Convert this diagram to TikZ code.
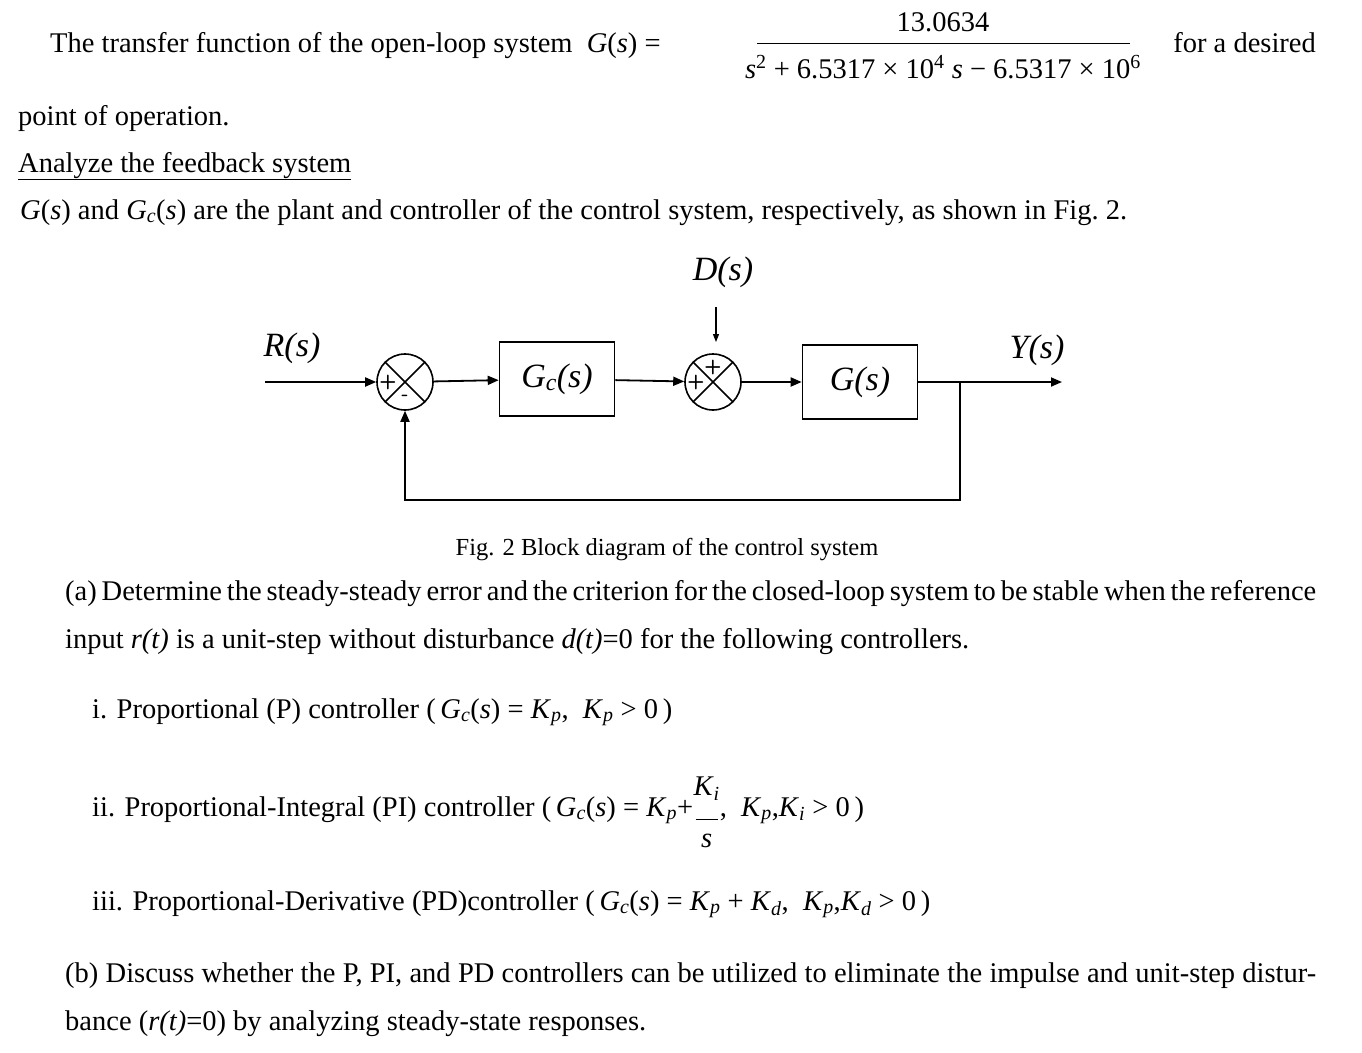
\documentclass[tikz,border=0pt]{standalone}
\usepackage{fontspec}
\setmainfont{Liberation Serif}
\usetikzlibrary{arrows.meta}
\newcommand{\mi}[1]{\textit{#1}}
\newcommand{\sbs}[1]{\textsubscript{\textit{#1}}}
\newcommand{\sps}[1]{\textsuperscript{#1}}
\tikzset{
 txt/.style={anchor=base west,inner sep=0pt,font=\fontsize{28.5}{32}\selectfont},
 lbl/.style={inner sep=0pt,font=\fontsize{34}{36}\selectfont\itshape},
 blk/.style={draw,line width=1.6pt,minimum width=115pt,minimum height=74pt,font=\fontsize{34}{36}\selectfont\itshape},
 sumj/.style={draw,circle,line width=1.6pt,minimum size=56pt,inner sep=0pt},
 sig/.style={line width=1.8pt,-{Triangle[length=11pt,width=9pt]}},
 pm/.style={inner sep=0pt,font=\fontsize{20}{20}\selectfont\bfseries\sffamily}
}
\begin{document}
\begin{tikzpicture}[x=1pt,y=-1pt]
\useasboundingbox (0,0) rectangle (1362,1052);
% header
\node[txt] (l1) at (50,52) {The transfer function of the open-loop system \ \mi{G}(\mi{s}) =};
\node[txt,anchor=base] (num) at (943,31) {13.0634};
\draw[line width=0.9pt] (757,43) -- (1130,43);
\node[txt,anchor=base] (den) at (943,78) {\mi{s}\sps{2} + 6.5317 × 10\sps{4} \mi{s} − 6.5317 × 10\sps{6}};
\node[txt,anchor=base east] (fd) at (1316,52) {for a desired};
\node[txt] (l2) at (18,125) {point of operation.};
\node[txt] (l3) at (18,172) {\underline{Analyze the feedback system}};
\node[txt] (l4) at (20,219) {\mi{G}(\mi{s}) and \mi{G}\sbs{c}(\mi{s}) are the plant and controller of the control system, respectively, as shown in Fig.~2.};
% diagram
\node[sumj] (s1) at (405,382) {};
\draw[line width=1.6pt] (s1.45)--(s1.225) (s1.135)--(s1.315);
\node[pm] at ([xshift=-17pt]s1.center) {+};
\node[pm] at ([yshift=-16pt]s1.center) {-};
\node[blk] (gc) at (557,379) {G\textsubscript{c}(s)};
\node[sumj] (s2) at (713,382) {};
\draw[line width=1.6pt] (s2.45)--(s2.225) (s2.135)--(s2.315);
\node[pm] at ([xshift=-17pt]s2.center) {+};
\node[pm] at ([yshift=15pt]s2.center) {+};
\node[blk] (g) at (860,382) {G(s)};
\coordinate (rin) at (265,382);
\coordinate (yout) at (1062,382);
\coordinate (br) at (960,382);
\coordinate (dtop) at (716,307);
\coordinate (dend) at (716,342);
\node[lbl] (R) at (292,348) {R(s)};
\node[lbl] (Y) at (1037,350) {Y(s)};
\node[lbl] (D) at (723,272) {D(s)};
\draw[sig] (rin) -- (s1);
\draw[sig] (s1) -- (gc);
\draw[sig] (gc) -- (s2);
\draw[sig] (s2) -- (g);
\draw[sig] (g.east|-yout) -- (yout);
\draw[line width=1.2pt,-{Triangle[length=8pt,width=6pt]}] (dtop) -- (dend);
\draw[sig] (br) -- (960,500) -- (405,500) -- (s1.south);
\node[txt,font=\fontsize{24.5}{28}\selectfont,anchor=base] (cap) at (667,555) {Fig. 2 Block diagram of the control system};
\node[txt,anchor=north west,text width=1251pt,align=justify,font=\fontsize{28.5}{48}\selectfont] (pa) at (65,580) {(a) Determine the steady-steady error and the criterion for the closed-loop system to be stable when the reference input \textit{r(t)} is a unit-step without disturbance \textit{d(t)}=0 for the following controllers.};
\node[txt] (i) at (92,718) {i. Proportional (P) controller (\,\mi{G}\sbs{c}(\mi{s}) = \mi{K}\sbs{p}, \ \mi{K}\sbs{p} > 0\,)};
\node[txt] (ii) at (92,816) {ii. Proportional-Integral (PI) controller (\,\mi{G}\sbs{c}(\mi{s}) = \mi{K}\sbs{p}+};
\node[txt] (kf) at (ii.base east) {\raisebox{-0.4ex}{\begin{tabular}{@{}c@{}}\mi{K}\sbs{i}\\[-8pt]\rule{22pt}{0.8pt}\\[-4pt]\mi{s}\end{tabular}}, \ \mi{K}\sbs{p},\mi{K}\sbs{i} > 0\,)};
\node[txt] (iii) at (92,910) {iii. Proportional-Derivative (PD)controller (\,\mi{G}\sbs{c}(\mi{s}) = \mi{K}\sbs{p} + \mi{K}\sbs{d}, \ \mi{K}\sbs{p},\mi{K}\sbs{d} > 0\,)};
\node[txt,anchor=north west,text width=1251pt,align=justify,font=\fontsize{28.5}{48}\selectfont] (pb) at (65,963) {(b) Discuss whether the P, PI, and PD controllers can be utilized to eliminate the impulse and unit-step disturbance (\textit{r(t)}=0) by analyzing steady-state responses.};
\end{tikzpicture}
\end{document}
